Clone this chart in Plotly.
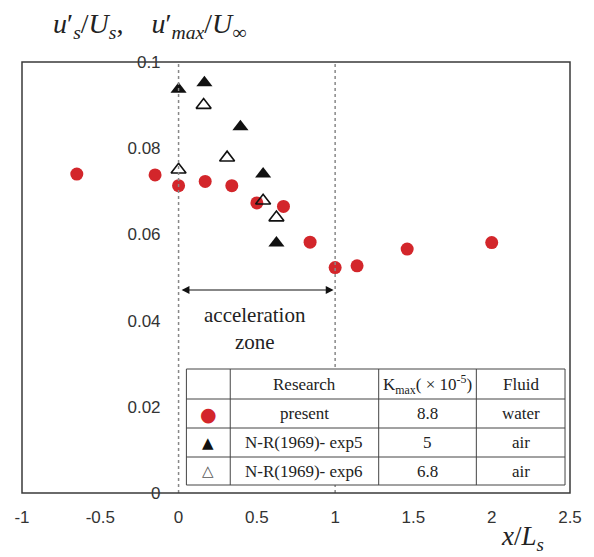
import plotly.graph_objects as go

# ---- data ----
present_x = [-0.65, -0.15, 0.0, 0.17, 0.34, 0.50, 0.67, 0.84, 1.0, 1.14, 1.46, 2.0]
present_y = [0.0740, 0.0738, 0.0713, 0.0723, 0.0713, 0.0673, 0.0665, 0.0582, 0.0523, 0.0527, 0.0566, 0.0581]

exp5_x = [0.0, 0.165, 0.395, 0.54, 0.625]
exp5_y = [0.0937, 0.0952, 0.0850, 0.0740, 0.0580]

exp6_x = [0.0, 0.16, 0.31, 0.54, 0.625]
exp6_y = [0.0750, 0.0900, 0.0778, 0.0678, 0.0639]

x_ticks = [-1, -0.5, 0, 0.5, 1, 1.5, 2, 2.5]
x_ticktext = ["-1", "-0.5", "0", "0.5", "1", "1.5", "2", "2.5"]
y_ticks = [0, 0.02, 0.04, 0.06, 0.08, 0.1]
y_ticktext = ["0", "0.02", "0.04", "0.06", "0.08", "0.1"]

table_header = ["", "Research", "K<sub>max</sub>( × 10<sup>-5</sup>)", "Fluid"]
table_rows = [
    ["present", "8.8", "water"],
    ["N-R(1969)- exp5", "5", "air"],
    ["N-R(1969)- exp6", "6.8", "air"],
]
table_symbols = ["●", "▲", "△"]
table_symbol_colors = ["#d3262b", "#111111", "#555555"]

RED = "#d3262b"
W, H = 594, 557
L, R, T, B = 22, 22, 62, 64
PW, PH = W - L - R, H - T - B


def px(xp):
    return (xp - L) / PW


def py(yp):
    return (H - B - yp) / PH


fig = go.Figure()
fig.add_trace(go.Scatter(x=present_x, y=present_y, mode="markers",
                         marker=dict(symbol="circle", size=13, color=RED, line=dict(width=0)),
                         name="present", showlegend=False))
fig.add_trace(go.Scatter(x=exp5_x, y=exp5_y, mode="markers",
                         marker=dict(symbol="triangle-up", size=14, color="#111111", line=dict(width=0)),
                         name="exp5", showlegend=False))
fig.add_trace(go.Scatter(x=exp6_x, y=exp6_y, mode="markers",
                         marker=dict(symbol="triangle-up-open", size=13, color="#111111", line=dict(width=1.6)),
                         name="exp6", showlegend=False))

shapes = []
# dotted vertical guide lines
for xv in [0, 1]:
    shapes.append(dict(type="line", xref="x", yref="paper", x0=xv, x1=xv, y0=0, y1=1,
                       line=dict(color="#888888", width=1.5, dash="dot"), layer="above"))
# frame
shapes.append(dict(type="rect", xref="paper", yref="paper", x0=0, x1=1, y0=0, y1=1,
                   line=dict(color="#3a3a3a", width=1.5), layer="above"))

# table
tx = [187, 231, 380, 478, 567]
ty = [369, 399, 428, 457, 485]
shapes.append(dict(type="rect", xref="paper", yref="paper", x0=px(tx[0]), x1=px(tx[-1]),
                   y0=py(ty[-1]), y1=py(ty[0]), fillcolor="white",
                   line=dict(color="#444444", width=1), layer="above"))
for xv in tx[1:-1]:
    shapes.append(dict(type="line", xref="paper", yref="paper", x0=px(xv), x1=px(xv),
                       y0=py(ty[-1]), y1=py(ty[0]), line=dict(color="#444444", width=1), layer="above"))
for yv in ty[1:-1]:
    shapes.append(dict(type="line", xref="paper", yref="paper", x0=px(tx[0]), x1=px(tx[-1]),
                       y0=py(yv), y1=py(yv), line=dict(color="#444444", width=1), layer="above"))

annotations = []
serif = "Liberation Serif, Times New Roman, serif"
col_c = [(tx[i] + tx[i + 1]) / 2 for i in range(4)]
row_c = [(ty[i] + ty[i + 1]) / 2 for i in range(4)]


def ann(x, y, text, font, **kw):
    d = dict(x=x, y=y, xref="paper", yref="paper", text=text, showarrow=False,
             xanchor="center", yanchor="middle", font=font)
    d.update(kw)
    annotations.append(d)


for ci, txt in enumerate(table_header):
    if txt:
        ann(px(col_c[ci]), py(row_c[0]), txt, dict(family=serif, size=17, color="#222"))
for ri, row in enumerate(table_rows):
    ann(px(col_c[0]), py(row_c[ri + 1]), table_symbols[ri],
        dict(family="DejaVu Sans", size=19 if ri == 0 else 15, color=table_symbol_colors[ri]))
    for ci, txt in enumerate(row):
        ann(px(col_c[ci + 1]), py(row_c[ri + 1]), txt, dict(family=serif, size=17, color="#222"))

# acceleration zone arrow
annotations.append(dict(x=0.99, y=0.0471, ax=0.01, ay=0.0471, xref="x", yref="y", axref="x", ayref="y",
                        text="", showarrow=True, arrowhead=2, arrowside="end+start", arrowsize=1.3,
                        arrowwidth=1.2, arrowcolor="#111111"))
ann(px(256), py(328), "acceleration<br>zone", dict(family=serif, size=21, color="#222"))

# axis titles
ann(px(150), py(26),
    "<i>u</i>′<sub><i>s</i></sub>/<i>U</i><sub><i>s</i></sub>,\u00a0\u00a0\u00a0\u00a0<i>u</i>′<sub><i>max</i></sub>/<i>U</i><sub>∞</sub>",
    dict(family=serif, size=28, color="#222"))
ann(px(524), py(538), "<i>x</i>/<i>L</i><sub><i>s</i></sub>", dict(family=serif, size=27, color="#222"))

fig.update_layout(
    width=W, height=H, margin=dict(l=L, r=R, t=T, b=B),
    paper_bgcolor="white", plot_bgcolor="white",
    shapes=shapes, annotations=annotations,
    xaxis=dict(range=[-1, 2.5], tickvals=x_ticks, ticktext=x_ticktext, showgrid=False,
               zeroline=False, showline=False, ticks="", ticklabelstandoff=12,
               tickfont=dict(family="Liberation Sans, Arial", size=17, color="#333")),
    yaxis=dict(range=[0, 0.1], tickvals=y_ticks, ticktext=y_ticktext, showgrid=False,
               zeroline=False, showline=False, ticks="", anchor="free", position=1 / 3.5,
               ticklabelstandoff=18,
               tickfont=dict(family="Liberation Sans, Arial", size=17, color="#333")),
)

fig.write_html("out.html")
